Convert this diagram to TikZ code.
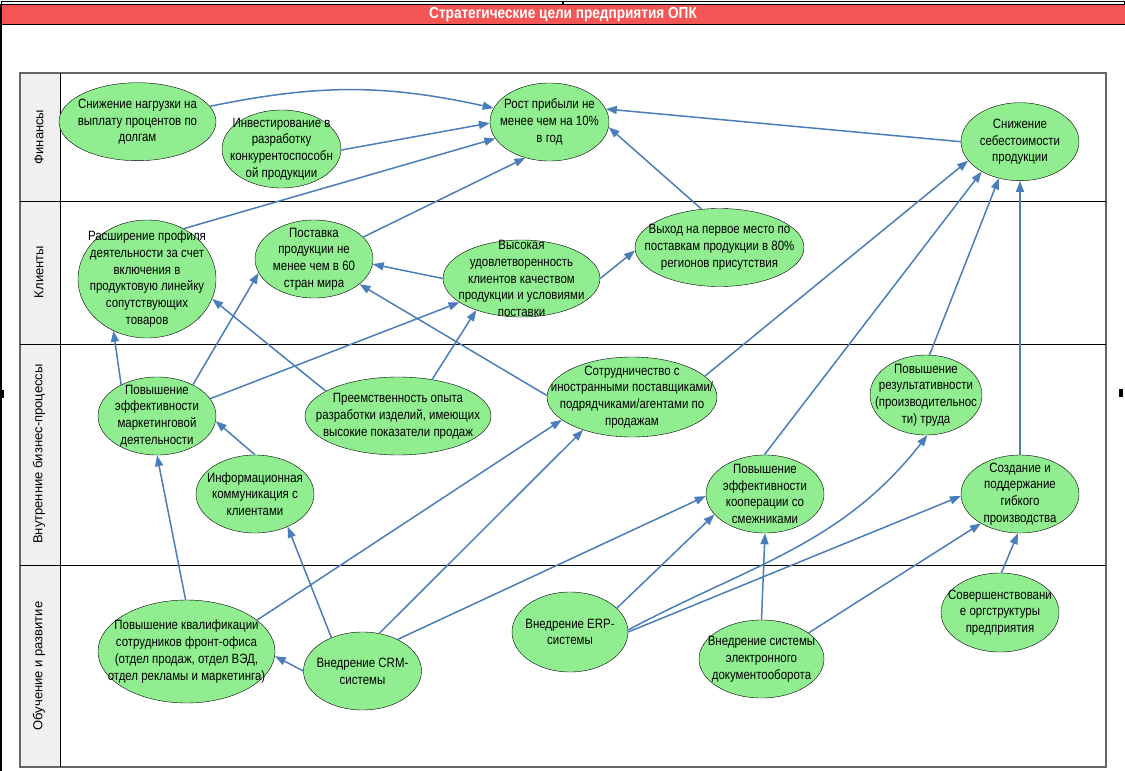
\documentclass[tikz,border=0pt]{standalone}
\usepackage{fontspec}
\setmainfont{Liberation Sans}[FakeStretch=0.85]
\newfontfamily\lanefont{Liberation Sans}
\usetikzlibrary{shapes.geometric,arrows.meta}
\definecolor{goalgreen}{RGB}{144,238,144}
\definecolor{linkblue}{RGB}{74,126,187}
\definecolor{titlered}{RGB}{245,85,85}
\definecolor{lanegray}{RGB}{240,240,240}
\tikzset{
	goal/.style={ellipse, draw=black, fill=goalgreen, inner sep=0pt},
	goaltext/.style={align=center, inner sep=0pt, font=\fontsize{13.5}{16.8}\selectfont},
	link/.style={draw=linkblue, line width=1.5pt, -{Triangle[length=11pt,width=8pt]}},
	lane/.style={rotate=90, inner sep=0pt, font=\lanefont\fontsize{13}{15}\selectfont},
	title/.style={text=white, inner sep=0pt, font=\bfseries\fontsize{16}{18}\selectfont}
}
\def\goal(#1)(#2,#3)(#4,#5)#6{%
	\node[goal, minimum width=#4pt, minimum height=#5pt] (#1) at (#2,-#3) {};
	\node[goaltext] (#1-t) at (#1) {#6};
}

\begin{document}
\begin{tikzpicture}[x=1pt,y=1pt]
		%%%%% START %%%%%
		\useasboundingbox (0,0) rectangle (1125,-771);
		\fill[white] (0,0) rectangle (1125,-771);
		
		\draw[line width=1pt] (1,-1) rectangle (1124,-4);
		\draw[line width=1.5pt] (563,-1) -- (563,-4);
		\fill[titlered] (0,-5) rectangle (1125,-24);
		\draw[line width=1pt] (0,-24) -- (1125,-24);
		\node[title] (head) at (563,-15) {Стратегические цели предприятия ОПК};
		\draw[line width=1.2pt] (1,-4) -- (1,-771);
		\fill[black] (0,-390) rectangle (4,-398);
		\fill[black] (1119,-389) rectangle (1123,-397);
		
		\fill[lanegray] (20,-73) rectangle (60,-767);
		\draw[black!60, line width=1.3pt] (20,-73) rectangle (1106,-767);
		\draw[line width=1pt] (60,-73) -- (60,-767);
		\draw[line width=1pt] (20,-201) -- (1106,-201);
		\draw[line width=1pt] (20,-344) -- (1106,-344);
		\draw[line width=1pt] (20,-565) -- (1106,-565);
		
		\node[lane] (l1) at (39,-137) {Финансы};
		\node[lane] (l2) at (39,-272) {Клиенты};
		\node[lane] (l3) at (39,-454) {Внутренние бизнес-процессы};
		\node[lane] (l4) at (39,-666) {Обучение и развитие};
		
		\goal(debt)(137.5,121.7)(157,78){Снижение нагрузки на\\выплату процентов по\\долгам}
		\goal(invest)(281.5,149)(119,78){Инвестирование в\\разработку\\конкурентоспособн\\ой продукции}
		\goal(profit)(549.5,122)(119,78){Рост прибыли не\\менее чем на 10\%\\в год}
		\goal(cost)(1020,141.7)(118,78){Снижение\\себестоимости\\продукции}
		
		\goal(profile)(147,279)(138,118){Расширение профиля\\деятельности за счет\\включения в\\продуктовую линейку\\сопутствующих\\товаров}
		\goal(supply)(314,259)(118,78){Поставка\\продукции не\\менее чем в 60\\стран мира}
		\goal(satisf)(521.5,278.5)(157,77){Высокая\\удовлетворенность\\клиентов качеством\\продукции и условиями\\поставки}
		\goal(leader)(719.5,247.5)(169,78){Выход на первое место по\\поставкам продукции в 80\%\\регионов присутствия}
		
		\goal(market)(157,416)(118,78){Повышение\\эффективности\\маркетинговой\\деятельности}
		\goal(exper)(398,416)(186,78){Преемственность опыта\\разработки изделий, имеющих\\высокие показатели продаж}
		\goal(coop)(632,397)(170,80){Сотрудничество с\\иностранными поставщиками/\\подрядчиками/агентами по\\продажам}
		\goal(labour)(926,395)(112,80){Повышение\\результативности\\(производительнос\\ти) труда}
		\goal(info)(255,494)(118,78){Информационная\\коммуникация с\\клиентами}
		\goal(partner)(765,494)(118,78){Повышение\\эффективности\\кооперации со\\смежниками}
		\goal(flex)(1020,494)(118,78){Создание и\\поддержание\\гибкого\\производства}
		
		\goal(staff)(186.5,651.5)(177,103){Повышение квалификации\\сотрудников фронт-офиса\\(отдел продаж, отдел ВЭД,\\отдел рекламы и маркетинга)}
		\goal(crm)(362.5,671)(118,78){Внедрение CRM-\\системы}
		\goal(erp)(570,632)(116,80){Внедрение ERP-\\системы}
		\goal(edoc)(761.5,659)(125,78){Внедрение системы\\электронного\\документооборота}
		\goal(orgstr)(1000,612.5)(118,79){Совершенствовани\\е оргструктуры\\предприятия}
		
		% finance
		\draw[link] (debt.12) to[bend left=12] (profit.166);
		\draw[link] (invest.359) -- (profit.181);
		\draw[link] (profile.54) -- (profit.197);
		\draw[link] (supply.24) -- (profit.236);
		\draw[link] (leader.115) -- (profit.355);
		\draw[link] (cost.180) -- (profit.13);
		
		% clients
		\draw[link] (satisf.180) -- (supply.355);
		\draw[link] (satisf.0) -- (leader.182);
		
		% processes
		\draw[link] (market.139) -- (profile.237);
		\draw[link] (market.41) -- (supply.194);
		\draw[link] (market.18) -- (satisf.201);
		\draw[link] (exper.161) -- (profile.343);
		\draw[link] (exper.47) -- (satisf.215);
		\draw[link] (coop.179) -- (supply.331);
		\draw[link] (coop.16) -- (cost.200);
		\draw[link] (partner.91) -- (cost.218);
		\draw[link] (labour.85) -- (cost.240);
		\draw[link] (flex.north) -- (cost.south);
		\draw[link] (info.north) -- (market.355);
		
		% learning
		\draw[link] (staff.91) -- (market.south);
		\draw[link] (staff.24) -- (coop.198);
		\draw[link] (crm.180) -- (staff.357);
		\draw[link] (crm.133) -- (info.315);
		\draw[link] (crm.66) -- (coop.214);
		\draw[link] (crm.42) -- (partner.182);
		\draw[link] (erp.27) -- (partner.202);
		\draw[link] (erp.2) to[out=28,in=232] (labour.272);
		\draw[link] (erp.0) -- (flex.182);
		\draw[link] (edoc.north) -- (partner.south);
		\draw[link] (edoc.29) -- (flex.217);
		\draw[link] (orgstr.88) -- (flex.267);
		%%%%% END %%%%%
	\end{tikzpicture}
\end{document}
